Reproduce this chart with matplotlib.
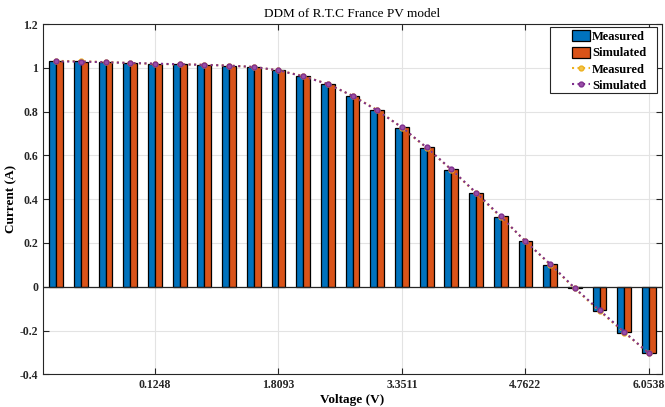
import numpy as np
import matplotlib
matplotlib.use('Agg')
import matplotlib.pyplot as plt
from matplotlib.patches import Rectangle

plt.rcParams['font.family'] = ['Liberation Serif', 'DejaVu Serif']

# measured and simulated current (A) for each point
measured = [1.0315, 1.0300, 1.0260, 1.0220, 1.0180, 1.0155, 1.0140, 1.0100, 1.0035,
            0.9880, 0.9630, 0.9255, 0.8725, 0.8075, 0.7265, 0.6345, 0.5345, 0.4275,
            0.3185, 0.2085, 0.1010, -0.0080, -0.1110, -0.2090, -0.3030]
simulated = [1.0290, 1.0285, 1.0255, 1.0220, 1.0190, 1.0160, 1.0135, 1.0100, 1.0040,
             0.9885, 0.9610, 0.9260, 0.8720, 0.8050, 0.7280, 0.6360, 0.5355, 0.4300,
             0.3215, 0.2070, 0.1040, -0.0060, -0.1070, -0.2060, -0.3045]
tick_pos = [5, 10, 15, 20, 25]
tick_labels = ['0.1248', '1.8093', '3.3511', '4.7622', '6.0538']

x = np.arange(1, len(measured) + 1)
w = 0.28

fig = plt.figure(figsize=(6.65, 4.07), dpi=100)
ax = fig.add_axes([0.0647, 0.0803, 0.9308, 0.8607])

b1 = ax.bar(x - w/2, measured, w, color='#0072BD', edgecolor='black', linewidth=0.9,
            label='Measured', zorder=3)
b2 = ax.bar(x + w/2, simulated, w, color='#D95319', edgecolor='black', linewidth=0.9,
            label='Simulated', zorder=3)
l1, = ax.plot(x, measured, ':', color='#EDB120', lw=1.5, marker='o', ms=3.5,
              mfc='#F3C34A', label='Measured', zorder=4)
l2, = ax.plot(x, simulated, ':', color='#7E2F8E', lw=1.5, marker='o', ms=3.5,
              mfc='#9A4FA8', label='Simulated', zorder=5)
ax.axhline(0, color='#262626', lw=0.9, zorder=3)

ax.set_xlim(0.47, 25.53)
ax.set_ylim(-0.4, 1.2)
ax.set_xticks(tick_pos)
ax.set_xticklabels(tick_labels)
ax.set_yticks(np.arange(-0.4, 1.21, 0.2))
ax.set_yticklabels(['-0.4', '-0.2', '0', '0.2', '0.4', '0.6', '0.8', '1', '1.2'])
for lab in ax.get_xticklabels() + ax.get_yticklabels():
    lab.set_fontweight('bold')
    lab.set_fontsize(8.5)
ax.tick_params(direction='in', top=True, right=True, length=4, width=0.8, colors='#262626',
               labelcolor='#262626')
ax.grid(True, color='#E3E3E3', lw=0.8, zorder=0)
ax.set_axisbelow(True)
for s in ax.spines.values():
    s.set_color('#262626')
    s.set_linewidth(0.8)

ax.set_title('DDM of R.T.C France PV model', fontsize=9.5, pad=5)
ax.set_xlabel('Voltage (V)', fontsize=9.5, fontweight='bold', labelpad=2)
ax.set_ylabel('Current (A)', fontsize=9.5, fontweight='bold', labelpad=2)

# MATLAB style legend: wide box with the entries set in from the left
ax.add_patch(Rectangle((0.819, 0.804), 0.173, 0.187, transform=ax.transAxes,
                       facecolor='white', edgecolor='#262626', lw=0.8, zorder=6))
leg = ax.legend([b1, b2, l1, l2], ['Measured', 'Simulated', 'Measured', 'Simulated'],
                loc='upper left', bbox_to_anchor=(0.855, 0.982),
                prop={'weight': 'bold', 'size': 9}, frameon=False,
                borderaxespad=0, borderpad=0, handlelength=1.4, handleheight=0.95,
                handletextpad=0.2, labelspacing=0.3)
leg.set_zorder(7)

plt.savefig('out.png', dpi=100)
